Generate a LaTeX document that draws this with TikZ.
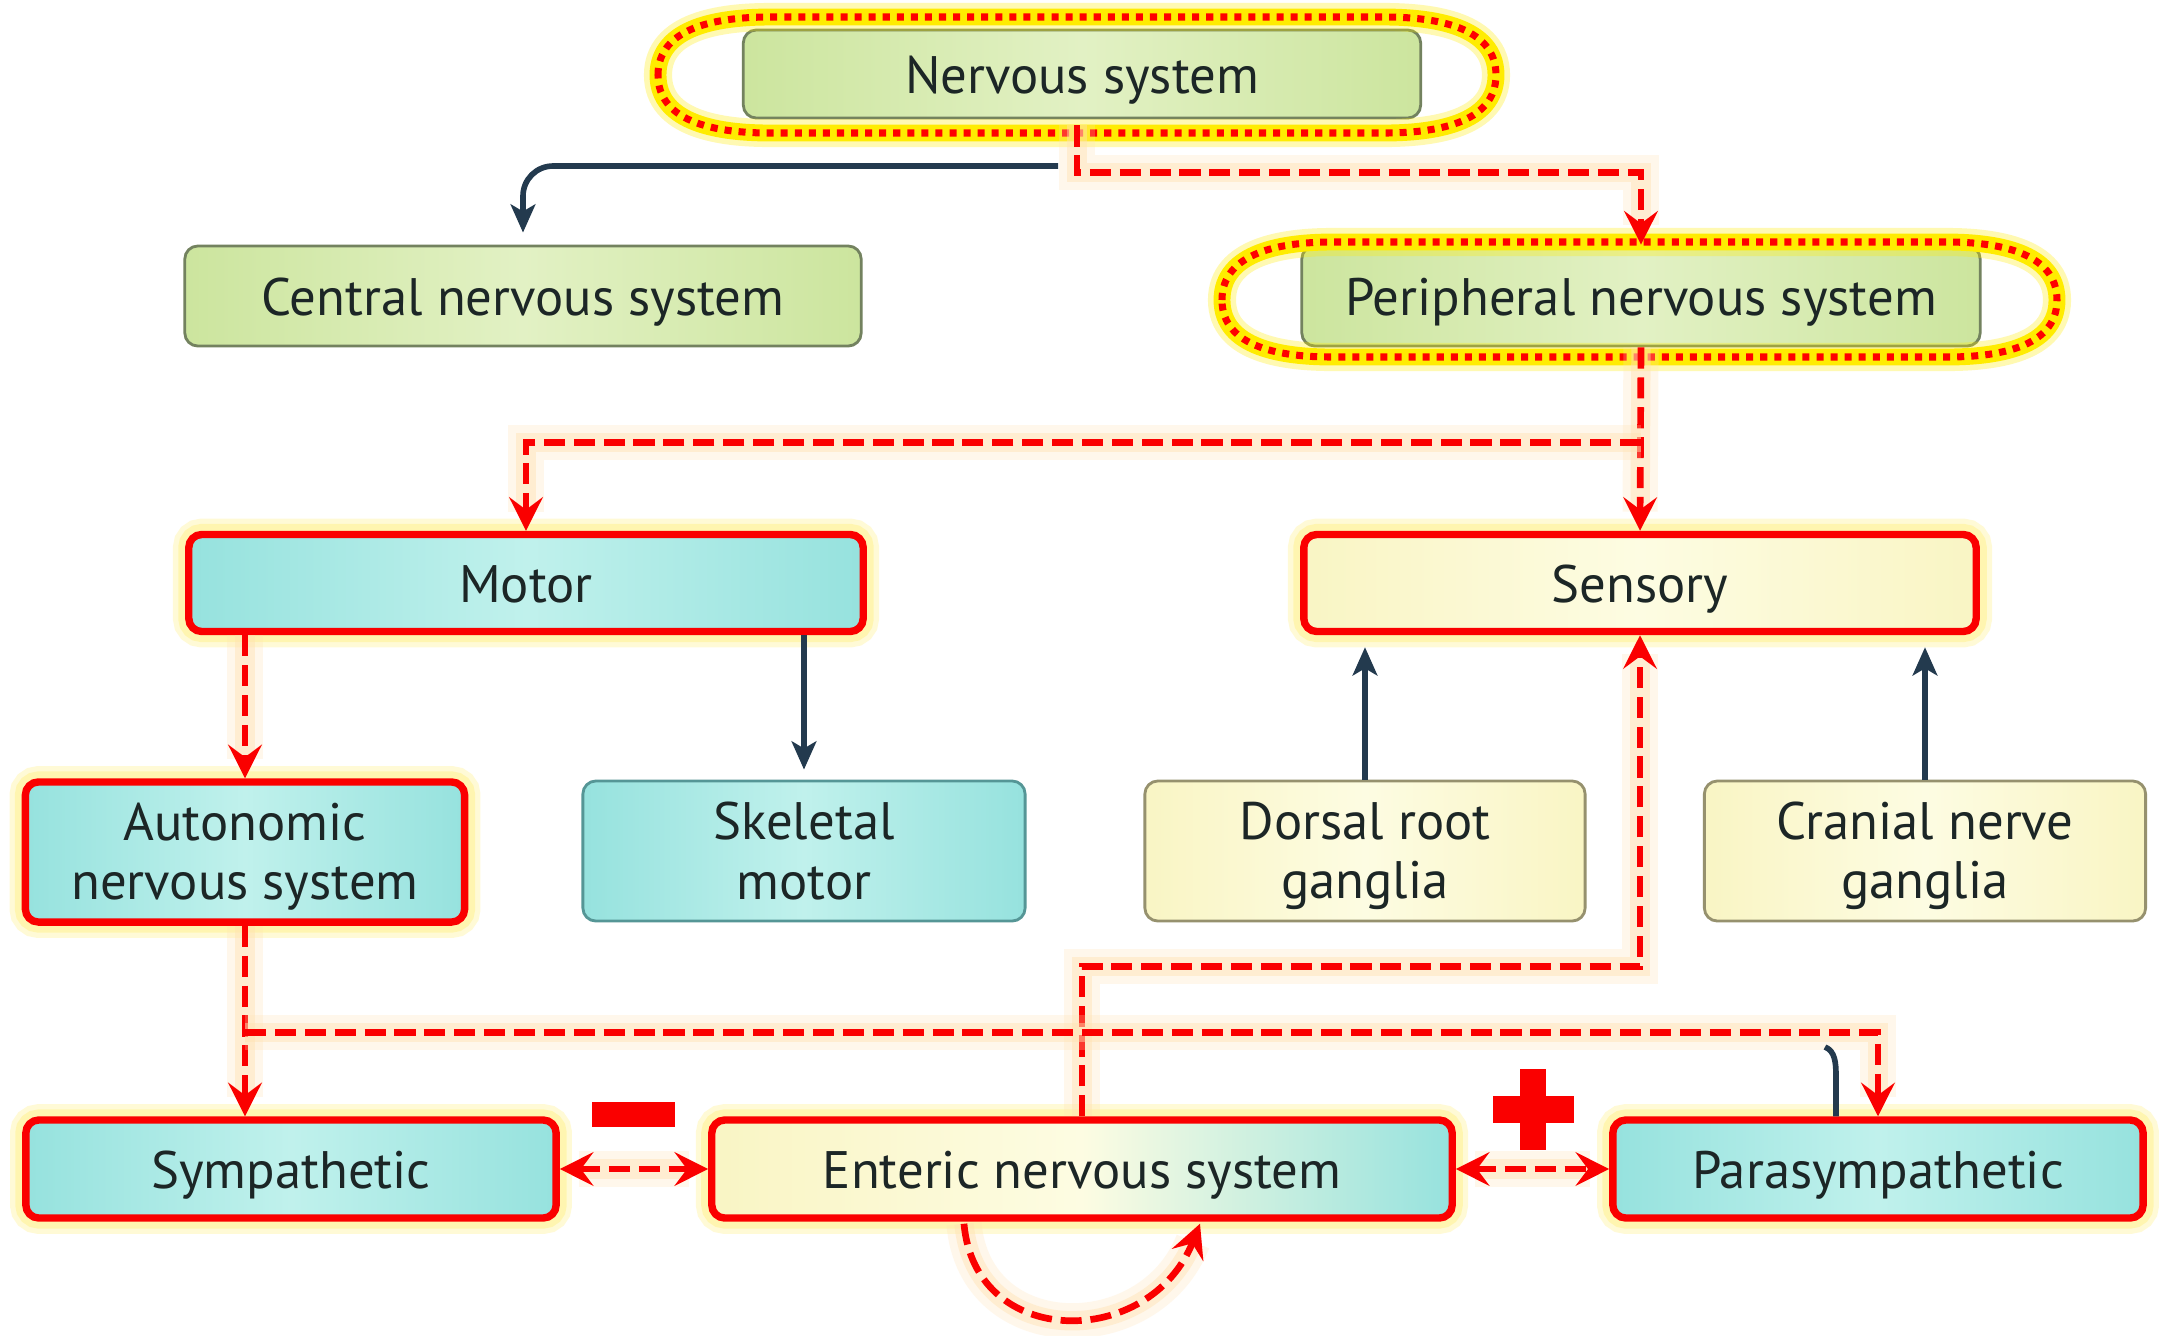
\documentclass[tikz,border=0pt]{standalone}
\usepackage{fontspec}
\setmainfont{PT Sans}
\usetikzlibrary{arrows.meta,calc}
\definecolor{rd}{RGB}{250,0,0}
\definecolor{navy}{RGB}{35,58,78}
\definecolor{txt}{RGB}{28,38,38}
\definecolor{grn}{RGB}{204,229,158}
\definecolor{grnl}{RGB}{226,241,196}
\definecolor{grnb}{RGB}{115,130,95}
\definecolor{cyn}{RGB}{150,226,222}
\definecolor{cynl}{RGB}{192,241,236}
\definecolor{cynb}{RGB}{85,150,150}
\definecolor{ylw}{RGB}{249,245,196}
\definecolor{ylwl}{RGB}{253,252,226}
\definecolor{ylwb}{RGB}{150,145,110}
\definecolor{glowy}{RGB}{255,242,140}
\definecolor{glowo}{RGB}{255,226,178}
\definecolor{hly}{RGB}{255,236,0}
\tikzset{
  base/.style={rectangle, rounded corners=0.13cm, text=txt, align=center, inner sep=0pt,
    font=\fontsize{15}{16.8}\selectfont},
  oneline/.style={text height=13.4pt, text depth=2.4pt},
  lowtail/.style={text depth=0.5pt},
  gbox/.style={base, draw=grnb, line width=0.8pt, left color=grn, right color=grn, middle color=grnl},
  cbox/.style={base, draw=cynb, line width=0.8pt, left color=cyn, right color=cyn, middle color=cynl},
  ybox/.style={base, draw=ylwb, line width=0.8pt, left color=ylw, right color=ylw, middle color=ylwl},
  rbox/.style={base, draw=rd, line width=2.1pt,
    preaction={draw=glowy, line width=9pt, opacity=0.35},
    preaction={draw=glowy, line width=6pt, opacity=0.5}},
  cshade/.style={left color=cyn, right color=cyn, middle color=cynl},
  yshade/.style={left color=ylw, right color=ylw, middle color=ylwl},
  eshade/.style={left color=ylw, right color=cyn, middle color=ylwl},
  rline/.style={draw=rd, line width=1.9pt, dash pattern=on 6pt off 2.5pt,
    preaction={draw=glowo, line width=10pt, opacity=0.25, solid},
    preaction={draw=glowo, line width=5.5pt, opacity=0.45, solid}},
  rtip/.tip={Stealth[length=9.5pt,width=9.5pt,inset=3.5pt]},
  rdash/.style={rline, -rtip},
  rdash2/.style={rline, rtip-rtip},
  navyline/.style={draw=navy, line width=1.6pt},
  navyarrow/.style={navyline, -{Stealth[length=8pt,width=7pt,inset=2pt]}},
  hlring/.style={draw=red, line width=2pt, dash pattern=on 2pt off 2pt,
    preaction={draw=hly, line width=4.8pt},
    preaction={draw=hly, line width=8pt, opacity=0.3}}
}
\begin{document}
\begin{tikzpicture}[x=0.01cm,y=-0.01cm]
\useasboundingbox (0,0) rectangle (2168,1335);
\fill[white] (0,0) rectangle (2168,1335);

% nodes
\node[gbox, oneline, minimum width=6.77cm, minimum height=0.88cm] (ns) at (1082,74) {Nervous system};
\node[gbox, oneline, minimum width=6.76cm, minimum height=1.0cm] (cns) at (523,296) {Central nervous system};
\node[gbox, oneline, minimum width=6.78cm, minimum height=1.0cm] (pns) at (1641,296) {Peripheral nervous system};
\node[rbox, oneline, cshade, minimum width=6.74cm, minimum height=0.97cm] (motor) at (526,583) {Motor};
\node[rbox, oneline, yshade, minimum width=6.72cm, minimum height=0.97cm] (sens) at (1640,583) {Sensory};
\node[rbox, lowtail, cshade, minimum width=4.39cm, minimum height=1.40cm] (auto) at (245,852) {Autonomic\\nervous system};
\node[cbox, minimum width=4.42cm, minimum height=1.40cm] (skel) at (804,851) {Skeletal\\motor};
\node[ybox, lowtail, minimum width=4.40cm, minimum height=1.40cm] (drg) at (1365,851) {Dorsal root\\ganglia};
\node[ybox, lowtail, minimum width=4.41cm, minimum height=1.40cm] (cng) at (1925,851) {Cranial nerve\\ganglia};
\node[rbox, oneline, cshade, minimum width=5.30cm, minimum height=0.98cm] (symp) at (291,1169) {Sympathetic};
\node[rbox, oneline, eshade, minimum width=7.40cm, minimum height=0.98cm] (ens) at (1082,1169) {Enteric nervous system};
\node[rbox, oneline, cshade, minimum width=5.30cm, minimum height=0.98cm] (para) at (1878,1169) {Parasympathetic};

% highlight rings
\draw[hlring] (658,75) to[out=90,in=180] (770,17) -- (1384,17) to[out=0,in=90] (1496,75)
  to[out=-90,in=0] (1384,133) -- (770,133) to[out=180,in=-90] cycle;
\draw[hlring] (1222,300) to[out=90,in=180] (1332,242) -- (1947,242) to[out=0,in=90] (2057,300)
  to[out=-90,in=0] (1947,357) -- (1332,357) to[out=180,in=-90] cycle;

% connectors
\coordinate (nsL) at (1058,166);
\draw[navyarrow, rounded corners=0.3cm, shorten >=0.12cm] (nsL) -| (cns.north);
\draw[rdash] ($(ns.south)+(-5,6)$) -- ++(0,47) -| (pns.north);
\draw[rdash] (pns.south) -- (sens.north);
\draw[rdash] ($(pns.south)+(0,95)$) -| (motor.north);
\draw[rdash] (motor.south -| auto.north) -- (auto.north);
\draw[navyarrow, shorten >=0.1cm] (motor.south -| skel.north) -- (skel.north);
\draw[navyarrow, shorten >=0.12cm] (drg.north) -- (drg.north |- sens.south);
\draw[navyarrow, shorten >=0.12cm] (cng.north) -- (cng.north |- sens.south);
\draw[rdash] (ens.north) -- ++(0,-150) -| (sens.south);
\draw[rdash] (auto.south) -- (auto.south |- symp.north);
\draw[rdash] ($(auto.south)+(0,107)$) -| (para.north);
\coordinate (stub) at (1825,1047);
\draw[navyline] (stub) .. controls +(10,4) and +(0,-14) .. ($(para.north)+(-42,-40)$) -- ($(para.north)+(-42,0)$);
\draw[rdash2] (symp.east) -- (ens.west);
\draw[rdash2] (ens.east) -- (para.west);
\draw[rdash] ($(ens.south)+(-118,2)$) .. controls (975,1350) and (1150,1350) .. ($(ens.south)+(118,2)$);

% signs
\fill[rd] (592,1102) rectangle (675,1127);
\fill[rd] (1493,1096) rectangle (1574,1123);
\fill[rd] (1520,1069) rectangle (1546,1150);
\end{tikzpicture}
\end{document}
